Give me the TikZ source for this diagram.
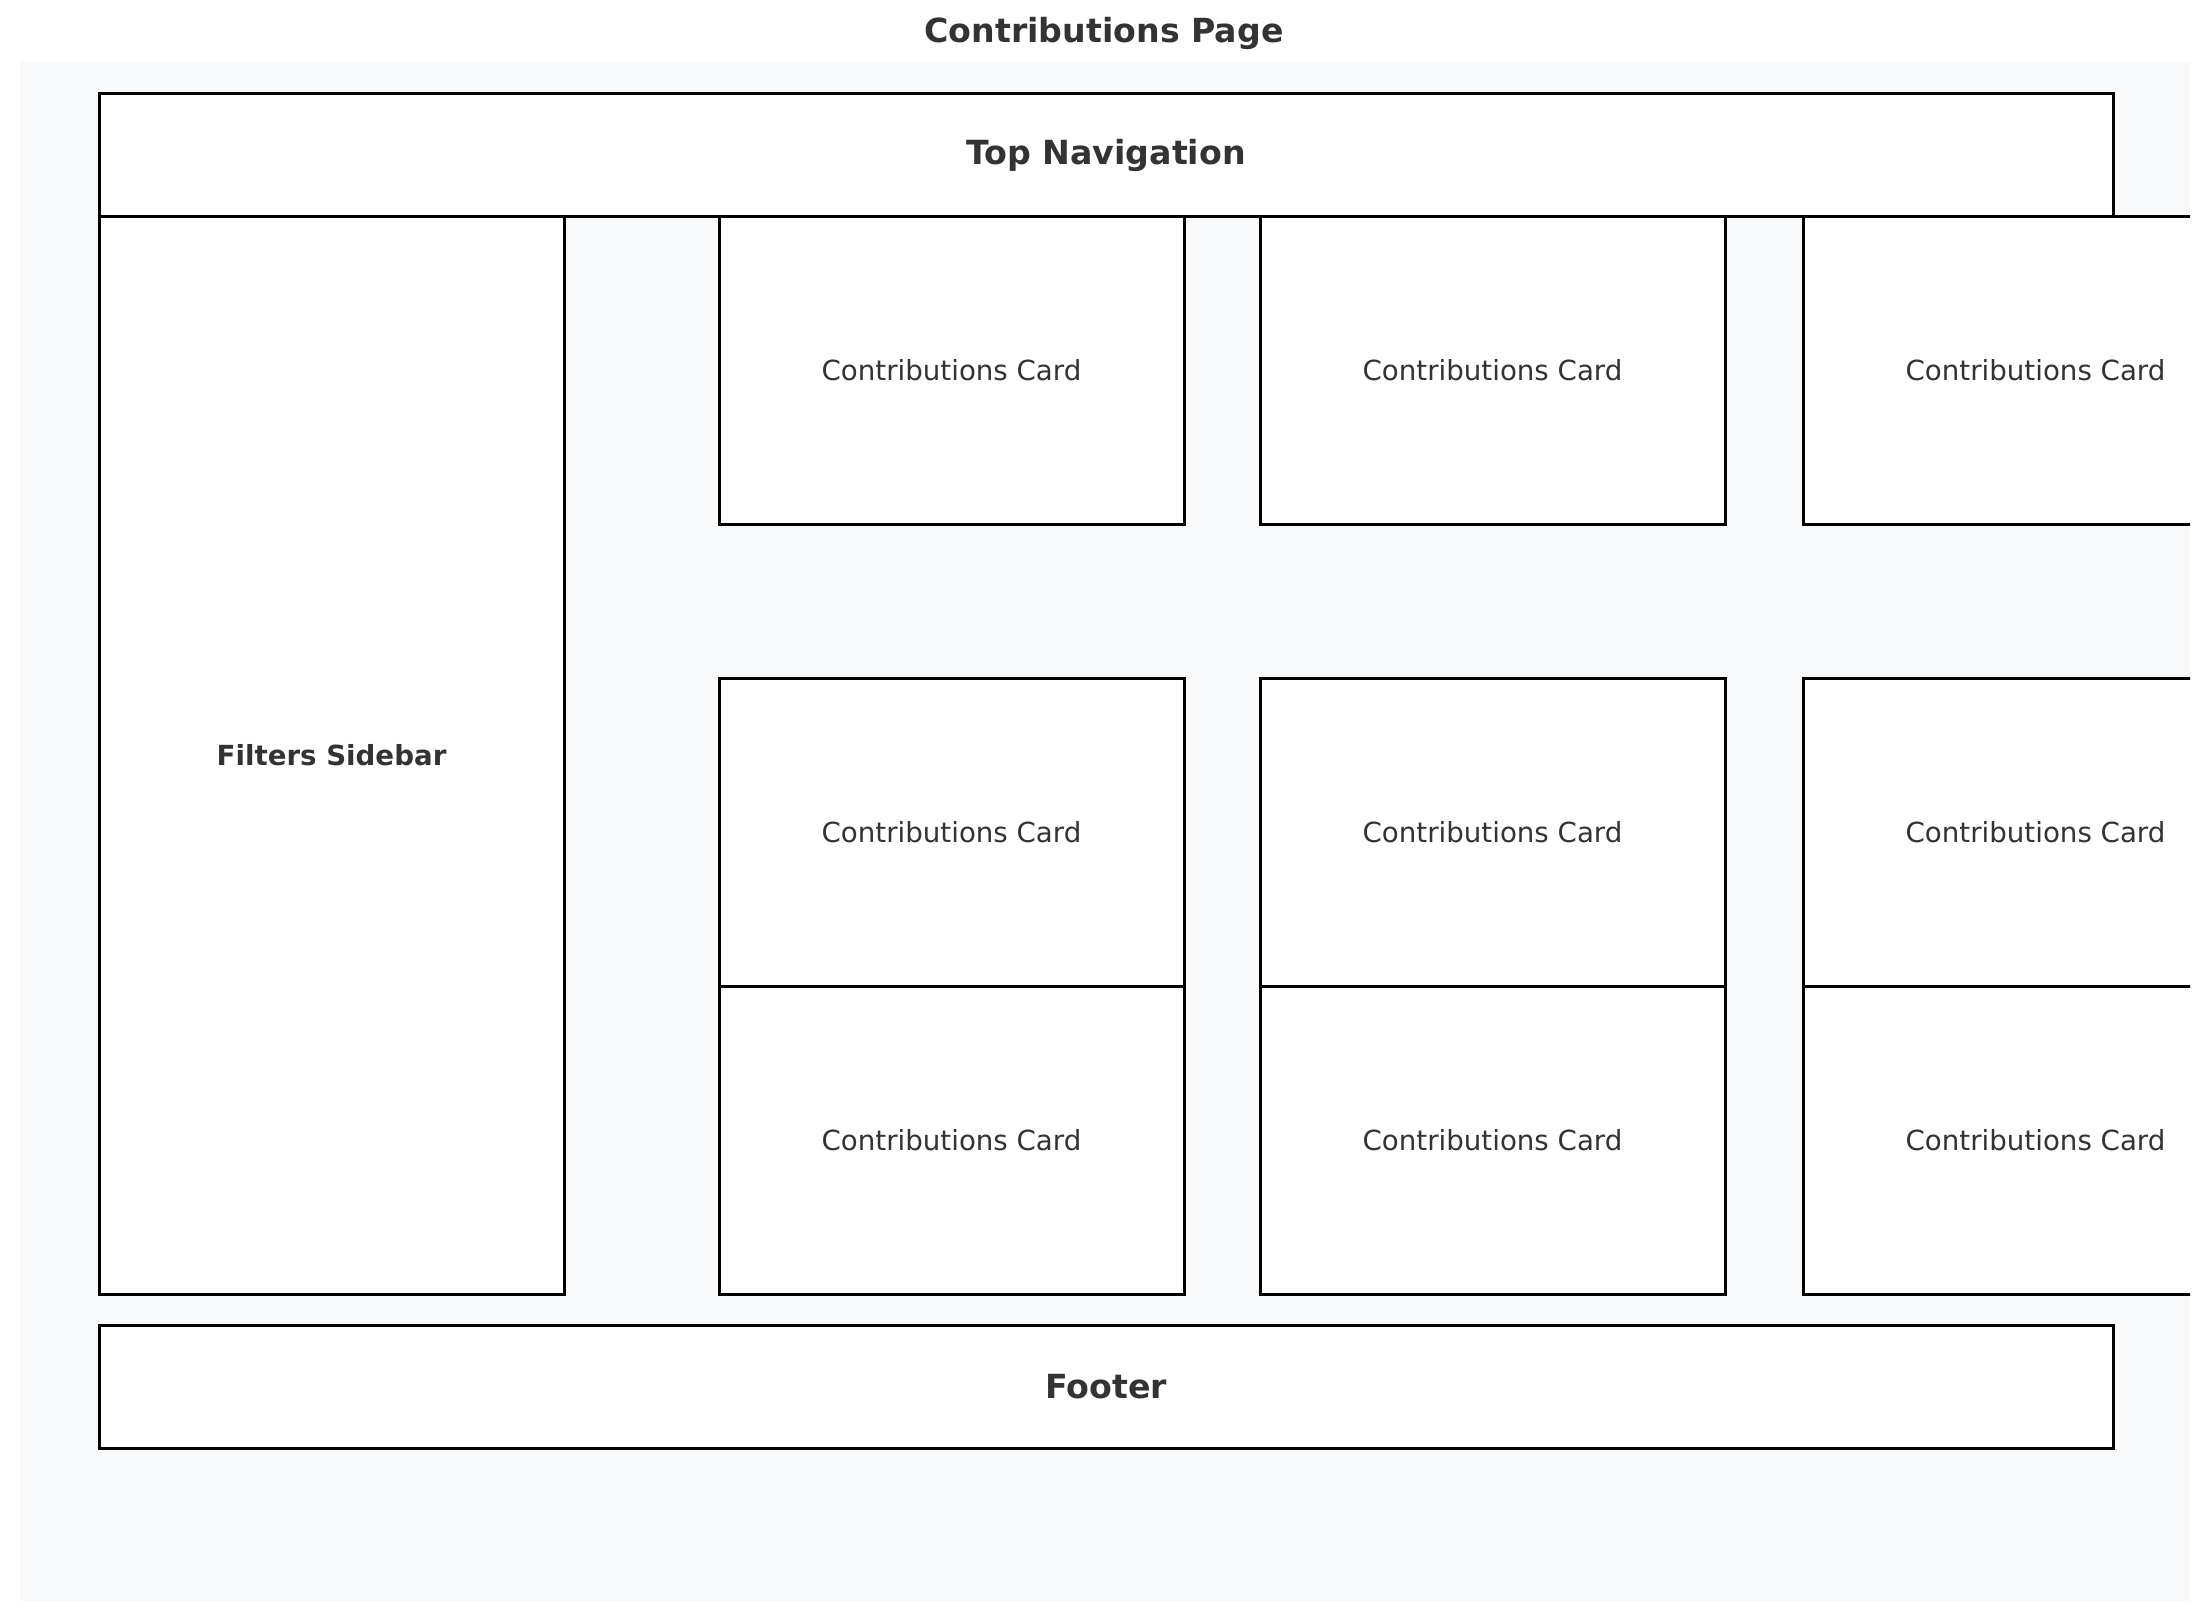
\documentclass[tikz,border=0pt]{standalone}
\usepackage{fontspec}
\setmainfont{DejaVu Sans}
\usepackage{tikz}
\definecolor{pagebg}{HTML}{F8F9FA}
\definecolor{txtgray}{HTML}{333333}

\begin{document}
\begin{tikzpicture}[x=0.127mm,y=-0.127mm,
  box/.style={draw=black,line width=1.1pt,fill=white,rectangle,anchor=north west,inner sep=0pt,text=txtgray},
  bar/.style={box,minimum width=2014*0.127mm,minimum height=123*0.127mm,font=\fontsize{12}{14}\bfseries},
  card/.style={box,minimum width=465*0.127mm,minimum height=308*0.127mm,font=\fontsize{10}{12}\selectfont}]
\useasboundingbox (0,0) rectangle (2210,1622);
\node[text=txtgray,font=\fontsize{12}{14}\bfseries] (title) at (1104,33) {Contributions Page};
\begin{scope}
\clip (20,62) rectangle (2190,1601);
\fill[pagebg] (20,62) rectangle (2190,1601);
\node[box,minimum width=465*0.127mm,minimum height=1078*0.127mm,font=\fontsize{10}{12}\bfseries] (sidebar) at (97.5,215) {Filters Sidebar};
% first row of cards
\node[card] (c11) at (717.5,215) {Contributions Card};
\node[card] (c12) at (1258.5,215) {Contributions Card};
\node[card] (c13) at (1801.5,215) {Contributions Card};
% second row
\node[card] (c21) at (717.5,677) {Contributions Card};
\node[card] (c22) at (1258.5,677) {Contributions Card};
\node[card] (c23) at (1801.5,677) {Contributions Card};
% third row
\node[card] (c31) at (717.5,985) {Contributions Card};
\node[card] (c32) at (1258.5,985) {Contributions Card};
\node[card] (c33) at (1801.5,985) {Contributions Card};
\node[bar] (topnav) at (97.5,92) {Top Navigation};
\node[bar] (footer) at (97.5,1324) {Footer};
\end{scope}
\end{tikzpicture}
\end{document}
